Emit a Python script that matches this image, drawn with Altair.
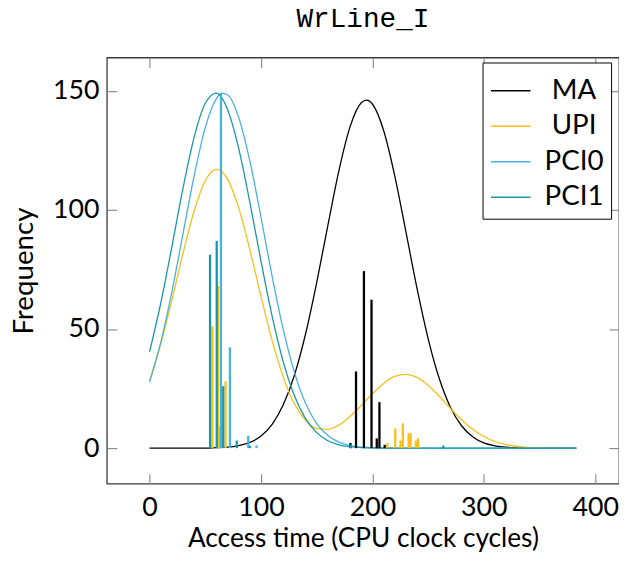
import altair as alt
import pandas as pd

# ---- values ----
X_GRID = [0, 10, 20, 30, 40, 50, 60, 65, 70, 80, 90, 100, 110, 120, 130, 140, 150, 160, 170, 180, 190, 195,
          200, 210, 220, 230, 240, 250, 260, 270, 280, 290, 300, 310, 320, 330, 340, 350, 360, 370, 380, 383]

MA_CURVE = [0, 0, 0, 0, 0, 0, 0.2, 0.3, 0.4, 1.1, 2.4, 5.1, 10.0, 18.2, 30.6, 47.9, 69.5, 93.4, 116.6, 134.9,
            144.9, 146.0, 144.4, 133.4, 114.4, 91.0, 67.1, 46.0, 29.2, 17.2, 9.4, 4.8, 2.2, 1.0, 0.4, 0.15,
            0, 0, 0, 0, 0, 0]
UPI_CURVE = [28.3, 43.6, 62.0, 81.7, 99.5, 112.2, 117.0, 116.0, 112.9, 100.8, 83.2, 63.7, 45.2, 29.8, 18.6,
             11.7, 8.3, 7.9, 9.7, 13.3, 17.9, 20.4, 22.8, 27.1, 30.1, 31.0, 29.7, 26.4, 21.8, 16.7, 11.9, 7.9,
             4.9, 2.8, 1.5, 0.7, 0.3, 0.2, 0.1, 0, 0, 0]
PCI0_CURVE = [27.7, 44.3, 65.5, 89.9, 114.2, 134.5, 146.7, 149.0, 148.3, 138.8, 120.5, 96.9, 72.1, 49.8, 31.8,
              18.8, 10.3, 5.3, 2.5, 1.1, 0.4, 0.3, 0.2, 0.1, 0, 0, 0, 0, 0, 0, 0, 0, 0, 0, 0, 0, 0, 0, 0, 0,
              0, 0]
PCI1_CURVE = [40.4, 60.7, 84.4, 109.0, 130.4, 144.7, 149.0, 146.9, 142.1, 125.8, 103.2, 78.5, 55.4, 36.2, 22.0,
              12.4, 6.5, 3.1, 1.4, 0.6, 0.2, 0.15, 0.1, 0, 0, 0, 0, 0, 0, 0, 0, 0, 0, 0, 0, 0, 0, 0, 0, 0,
              0, 0]

MA_BAR_X = [180.3, 185.3, 192.4, 199.2, 203.9, 206.3, 211.0]
MA_BAR_Y = [2.2, 32.2, 74.3, 62.3, 4.1, 19.3, 1.4]
UPI_BAR_X = [56.4, 61.5, 62.9, 68.2, 213.4, 220.5, 225.2, 227.3, 232.5, 234.3, 239.0, 241.0]
UPI_BAR_Y = [51.1, 68.1, 9.1, 28.0, 2.2, 8.3, 3.2, 10.4, 6.3, 6.3, 3.2, 4.1]
PCI0_BAR_X = [64.1, 72.1, 88.6, 96.0]
PCI0_BAR_Y = [149.0, 42.3, 5.2, 1.2]
PCI1_BAR_X = [54.3, 60.3, 66.1, 78.3, 90.1, 180.5, 263.6]
PCI1_BAR_Y = [81.2, 87.0, 26.0, 3.2, 1.0, 1.5, 1.1]

SERIES = ["MA", "UPI", "PCI0", "PCI1"]
COLORS = ["#000000", "#f7bf17", "#47b2dc", "#1a96ab"]
X_TICKS = [0, 100, 200, 300, 400]
Y_TICKS = [0, 50, 100, 150]
X_DOMAIN = [-38.3, 421.3]
Y_DOMAIN = [-14.9, 163.9]

# ---- tables ----
curve_rows = []
for name, vals in zip(SERIES, [MA_CURVE, UPI_CURVE, PCI0_CURVE, PCI1_CURVE]):
    for x, y in zip(X_GRID, vals):
        curve_rows.append({"series": name, "x": x, "y": y})
curves = pd.DataFrame(curve_rows)

bar_rows = []
for name, xs, ys in zip(SERIES, [MA_BAR_X, UPI_BAR_X, PCI0_BAR_X, PCI1_BAR_X],
                        [MA_BAR_Y, UPI_BAR_Y, PCI0_BAR_Y, PCI1_BAR_Y]):
    for x, y in zip(xs, ys):
        bar_rows.append({"series": name, "x": x, "y": y, "base": 0})
bars = pd.DataFrame(bar_rows)

xscale = alt.Scale(domain=X_DOMAIN, nice=False, zero=False)
yscale = alt.Scale(domain=Y_DOMAIN, nice=False, zero=False)

color = alt.Color(
    "series:N",
    sort=SERIES,
    scale=alt.Scale(domain=SERIES, range=COLORS),
    legend=alt.Legend(
        title=None, orient="none", legendX=380, legendY=5,
        symbolType="stroke", symbolSize=1600, symbolStrokeWidth=1.5,
        labelFont="Lato", labelFontSize=28, labelColor="black",
        labelAlign="center", labelOffset=43, symbolOffset=0,
        padding=7.5, rowPadding=0.9, strokeColor="black", fillColor="white",
    ),
)

lines = alt.Chart(curves).mark_line(strokeWidth=1.3, interpolate="monotone").encode(
    x=alt.X("x:Q", scale=xscale, axis=alt.Axis(
        orient="bottom", values=X_TICKS, title="Access time (CPU clock cycles)",
        offset=-10, tickSize=10, labelPadding=11, titleY=74, titleBaseline="alphabetic",
        titleFontSize=26.5, domain=False, grid=False)),
    y=alt.Y("y:Q", scale=yscale, axis=alt.Axis(
        orient="left", values=Y_TICKS, title="Frequency",
        offset=-10, tickSize=10, labelPadding=8, titleX=-93, titleBaseline="middle",
        domain=False, grid=False)),
    color=color,
)

combs = alt.Chart(bars).mark_rule(strokeWidth=2.3).encode(
    x=alt.X("x:Q", scale=xscale, axis=alt.Axis(
        orient="top", values=X_TICKS, title="", labels=False,
        offset=-10, tickSize=10, domain=False, grid=False)),
    y=alt.Y("y:Q", scale=yscale, axis=alt.Axis(
        orient="right", values=Y_TICKS, title="", labels=False,
        offset=-10, tickSize=10, domain=False, grid=False)),
    y2="base",
    color=color,
)

chart = (
    alt.layer(lines, combs)
    .resolve_axis(x="independent", y="independent")
    .properties(
        width=518, height=431,
        title=alt.TitleParams("WrLine_I", frame="group", anchor="middle"),
        autosize=alt.AutoSizeParams(type="none"),
        padding={"left": 100, "top": 47, "right": 0, "bottom": 66},
    )
    .configure_view(stroke="#3a3a3a", strokeWidth=1.3)
    .configure_axis(
        tickColor="#8c8c8c", tickWidth=1.2,
        labelFont="Lato", labelFontSize=27, labelColor="black",
        titleFont="Lato", titleFontSize=28, titleFontWeight="normal", titleColor="black",
    )
    .configure_title(font="Liberation Mono", fontSize=28, fontWeight="normal", color="black", offset=24)
)

chart.save("out.html", embed_options={"renderer": "svg", "actions": False})
